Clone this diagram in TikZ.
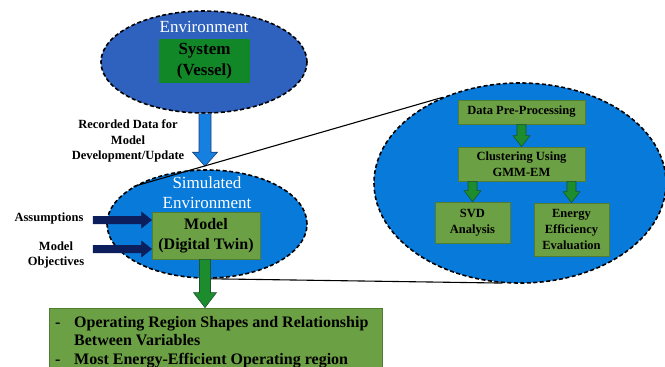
\documentclass[tikz,border=0pt]{standalone}
\usepackage{fontspec}
\setmainfont{Liberation Serif}
\usetikzlibrary{shapes.geometric,calc}
\definecolor{envblue}{RGB}{46,98,190}
\definecolor{simblue}{RGB}{8,122,218}
\definecolor{sysgreen}{RGB}{18,135,40}
\definecolor{boxgreen}{RGB}{108,160,68}
\definecolor{boxedge}{RGB}{80,125,50}
\definecolor{arrgreen}{RGB}{28,140,45}
\definecolor{arrgreenedge}{RGB}{25,85,45}
\definecolor{arrblue}{RGB}{22,128,225}
\definecolor{arrblueedge}{RGB}{30,60,120}
\definecolor{navyc}{RGB}{12,30,92}
% vertical block arrow: style, start, tip, shaft half width, head half width, head length
\newcommand{\vbarrow}[6]{\draw[#1] let \p1=(#2), \p2=(#3) in
  (\x1-#4,\y1) -- (\x1+#4,\y1) -- (\x1+#4,\y2+#6) -- (\x1+#5,\y2+#6) -- (\x1,\y2)
  -- (\x1-#5,\y2+#6) -- (\x1-#4,\y2+#6) -- cycle;}
% horizontal block arrow (rightwards)
\newcommand{\hbarrow}[6]{\draw[#1] let \p1=(#2), \p2=(#3) in
  (\x1,\y1-#4) -- (\x2-#6,\y1-#4) -- (\x2-#6,\y1-#5) -- (\x2,\y1) -- (\x2-#6,\y1+#5)
  -- (\x2-#6,\y1+#4) -- (\x1,\y1+#4) -- cycle;}
\begin{document}
\begin{tikzpicture}[x=1pt,y=-1pt,
  envell/.style={ellipse, draw=black, line width=1.6pt, dash pattern=on 4pt off 2.5pt, inner sep=0pt},
  gbox/.style={draw=boxedge, fill=boxgreen, line width=0.8pt, inner sep=0pt, align=center,
    font=\bfseries\fontsize{12.5}{16}\selectfont},
  bigbox/.style={draw=boxedge, fill=boxgreen, line width=0.8pt, inner sep=0pt, align=center,
    font=\bfseries\fontsize{16}{19.5}\selectfont},
  whitelabel/.style={text=white, inner sep=0pt, align=center, font=\fontsize{17}{20}\selectfont},
  sidelabel/.style={inner sep=0pt, align=center, font=\bfseries\fontsize{12.5}{15.5}\selectfont},
  zoomline/.style={draw=black, line width=1.1pt},
  bluearrow/.style={fill=arrblue, draw=arrblueedge, line width=0.6pt},
  greenarrow/.style={fill=arrgreen, draw=arrgreenedge, line width=0.6pt},
  navyarrow/.style={fill=navyc, draw=navyc, line width=0.4pt}
]
\useasboundingbox (0,0) rectangle (665,367);
\clip (0,0) rectangle (665,367);

% ellipses
\node[envell, fill=envblue, minimum width=206pt, minimum height=102pt] (env) at (204,62) {};
\node[envell, fill=simblue, minimum width=200pt, minimum height=108pt] (sim) at (207,224) {};
\node[envell, fill=simblue, minimum width=292pt, minimum height=200pt] (zoomell) at (520,183) {};

% ellipse labels
\node[whitelabel] (envlab) at (204,27) {Environment};
\node[whitelabel] (simlab) at (207,193) {Simulated\\Environment};

% boxes
\node[draw=none, fill=sysgreen, inner sep=0pt, minimum width=91pt, minimum height=44pt,
  align=center, font=\bfseries\fontsize{17}{21}\selectfont] (sys) at (204.5,61) {System\\(Vessel)};
\node[bigbox, minimum width=108pt, minimum height=47pt] (model) at (206,235.5) {Model\\(Digital Twin)};
\node[gbox, minimum width=127pt, minimum height=24pt] (dpp) at (521.5,112) {Data Pre-Processing};
\node[gbox, minimum width=127pt, minimum height=34pt] (clu) at (521.5,164) {Clustering Using\\GMM-EM};
\node[gbox, minimum width=75pt, minimum height=41pt] (svd) at (472.5,222.5) {SVD\\Analysis};
\node[gbox, minimum width=75pt, minimum height=53pt] (eee) at (571.5,229.5) {Energy\\Efficiency\\Evaluation};
\node[draw=boxedge, fill=boxgreen, line width=0.8pt, inner sep=0pt,
  minimum width=333pt, minimum height=64pt] (out) at (215.5,340) {};
\node[anchor=base west, inner sep=0pt, font=\bfseries\fontsize{16}{18.5}\selectfont] (outtext) at (55,327)
  {\begin{tabular}[t]{@{}p{19pt}@{}l@{}}
   - & Operating Region Shapes and Relationship\\
     & Between Variables\\
   - & Most Energy-Efficient Operating region
   \end{tabular}};

% side labels
\node[sidelabel] (rec) at (128,141) {Recorded Data for\\Model\\Development/Update};
\node[sidelabel] (assum) at (49,218) {Assumptions};
\node[sidelabel] (obj) at (56,255) {Model\\Objectives};
\coordinate (a1) at (93,220);
\coordinate (a2) at (93,249);

% zoom line (bottom) under arrow
\draw[zoomline] (sim.273.3) -- (zoomell.260.3);

% block arrows
\vbarrow{bluearrow}{$(env.south)+(1,0)$}{$(sim.north)+(-2,-3)$}{6pt}{12.5pt}{14pt}
\vbarrow{greenarrow}{$(model.south)+(-1,0)$}{out.north}{5.5pt}{11.5pt}{15pt}
\hbarrow{navyarrow}{a1}{model.west}{3.8pt}{8pt}{10pt}
\hbarrow{navyarrow}{a2}{model.west}{3.8pt}{8pt}{10pt}
\vbarrow{greenarrow}{dpp.south}{clu.north}{4.5pt}{8.5pt}{11pt}
\vbarrow{greenarrow}{clu.south -| svd.north}{svd.north}{4.5pt}{8.5pt}{11pt}
\vbarrow{greenarrow}{clu.south -| eee.north}{eee.north}{4.5pt}{8.5pt}{11pt}

% zoom line (top)
\draw[zoomline] (sim.153.1) -- (zoomell.132.5);
\end{tikzpicture}
\end{document}
